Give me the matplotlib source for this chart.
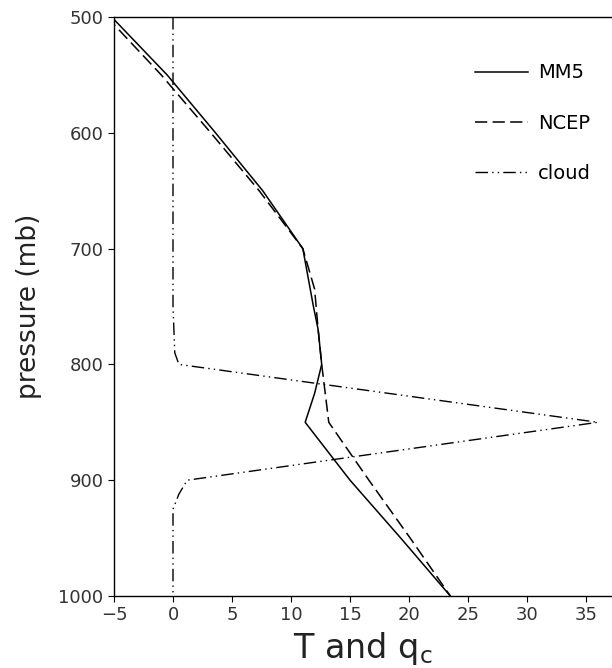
import numpy as np
import matplotlib
matplotlib.use("Agg")
import matplotlib.pyplot as plt

# temperature profiles (deg C) vs pressure (mb)
p_mm5 = [500, 550, 600, 650, 700, 750, 770, 800, 825, 850, 900, 950, 1000]
t_mm5 = [-5.2, -0.5, 3.6, 7.6, 11.0, 11.9, 12.3, 12.6, 12.0, 11.2, 15.0, 19.3, 23.5]

p_ncep = [500, 550, 600, 650, 700, 735, 770, 800, 850, 900, 950, 1000]
t_ncep = [-5.6, -1.0, 3.2, 7.3, 11.0, 12.0, 12.3, 12.6, 13.2, 16.6, 20.1, 23.5]

# cloud water profile
p_cloud = [500, 750, 790, 800, 850, 900, 912, 925, 1000]
q_cloud = [0.0, 0.0, 0.15, 0.5, 36.0, 1.2, 0.5, 0.0, 0.0]

fig = plt.figure(figsize=(6.12, 6.68), dpi=100)
ax = fig.add_axes([114/612, 1 - 596/668, 1 - 114/612, (596 - 17)/668])

ax.plot(t_mm5, p_mm5, color='black', lw=1.1, label='MM5')
ax.plot(t_ncep, p_ncep, color='black', lw=1.1, dashes=(8, 3.5), label='NCEP')
ax.plot(q_cloud, p_cloud, color='black', lw=1.0,
        dashes=(9, 3, 1, 3, 1, 3), label='cloud')

ax.set_xlim(-5, 37.2)
ax.set_ylim(1000, 500)
ax.set_xticks(np.arange(-5, 36, 5))
ax.set_yticks([500, 600, 700, 800, 900, 1000])
ax.spines['right'].set_visible(False)
for s in ['left', 'bottom', 'top']:
    ax.spines[s].set_linewidth(1.0)

ax.tick_params(direction='out', length=4, width=0.8, labelsize=13,
               labelcolor='#333333')
ax.set_xlabel('T and q$_\\mathregular{c}$', fontsize=24, color='#222222', labelpad=4)
ax.set_ylabel('pressure (mb)', fontsize=19, color='#222222', labelpad=12)

ax.legend(loc='upper left', bbox_to_anchor=(0.69, 0.95), frameon=False,
          fontsize=14, handlelength=2.7, handletextpad=0.55, labelspacing=1.6)

fig.savefig('out.png', dpi=100)
